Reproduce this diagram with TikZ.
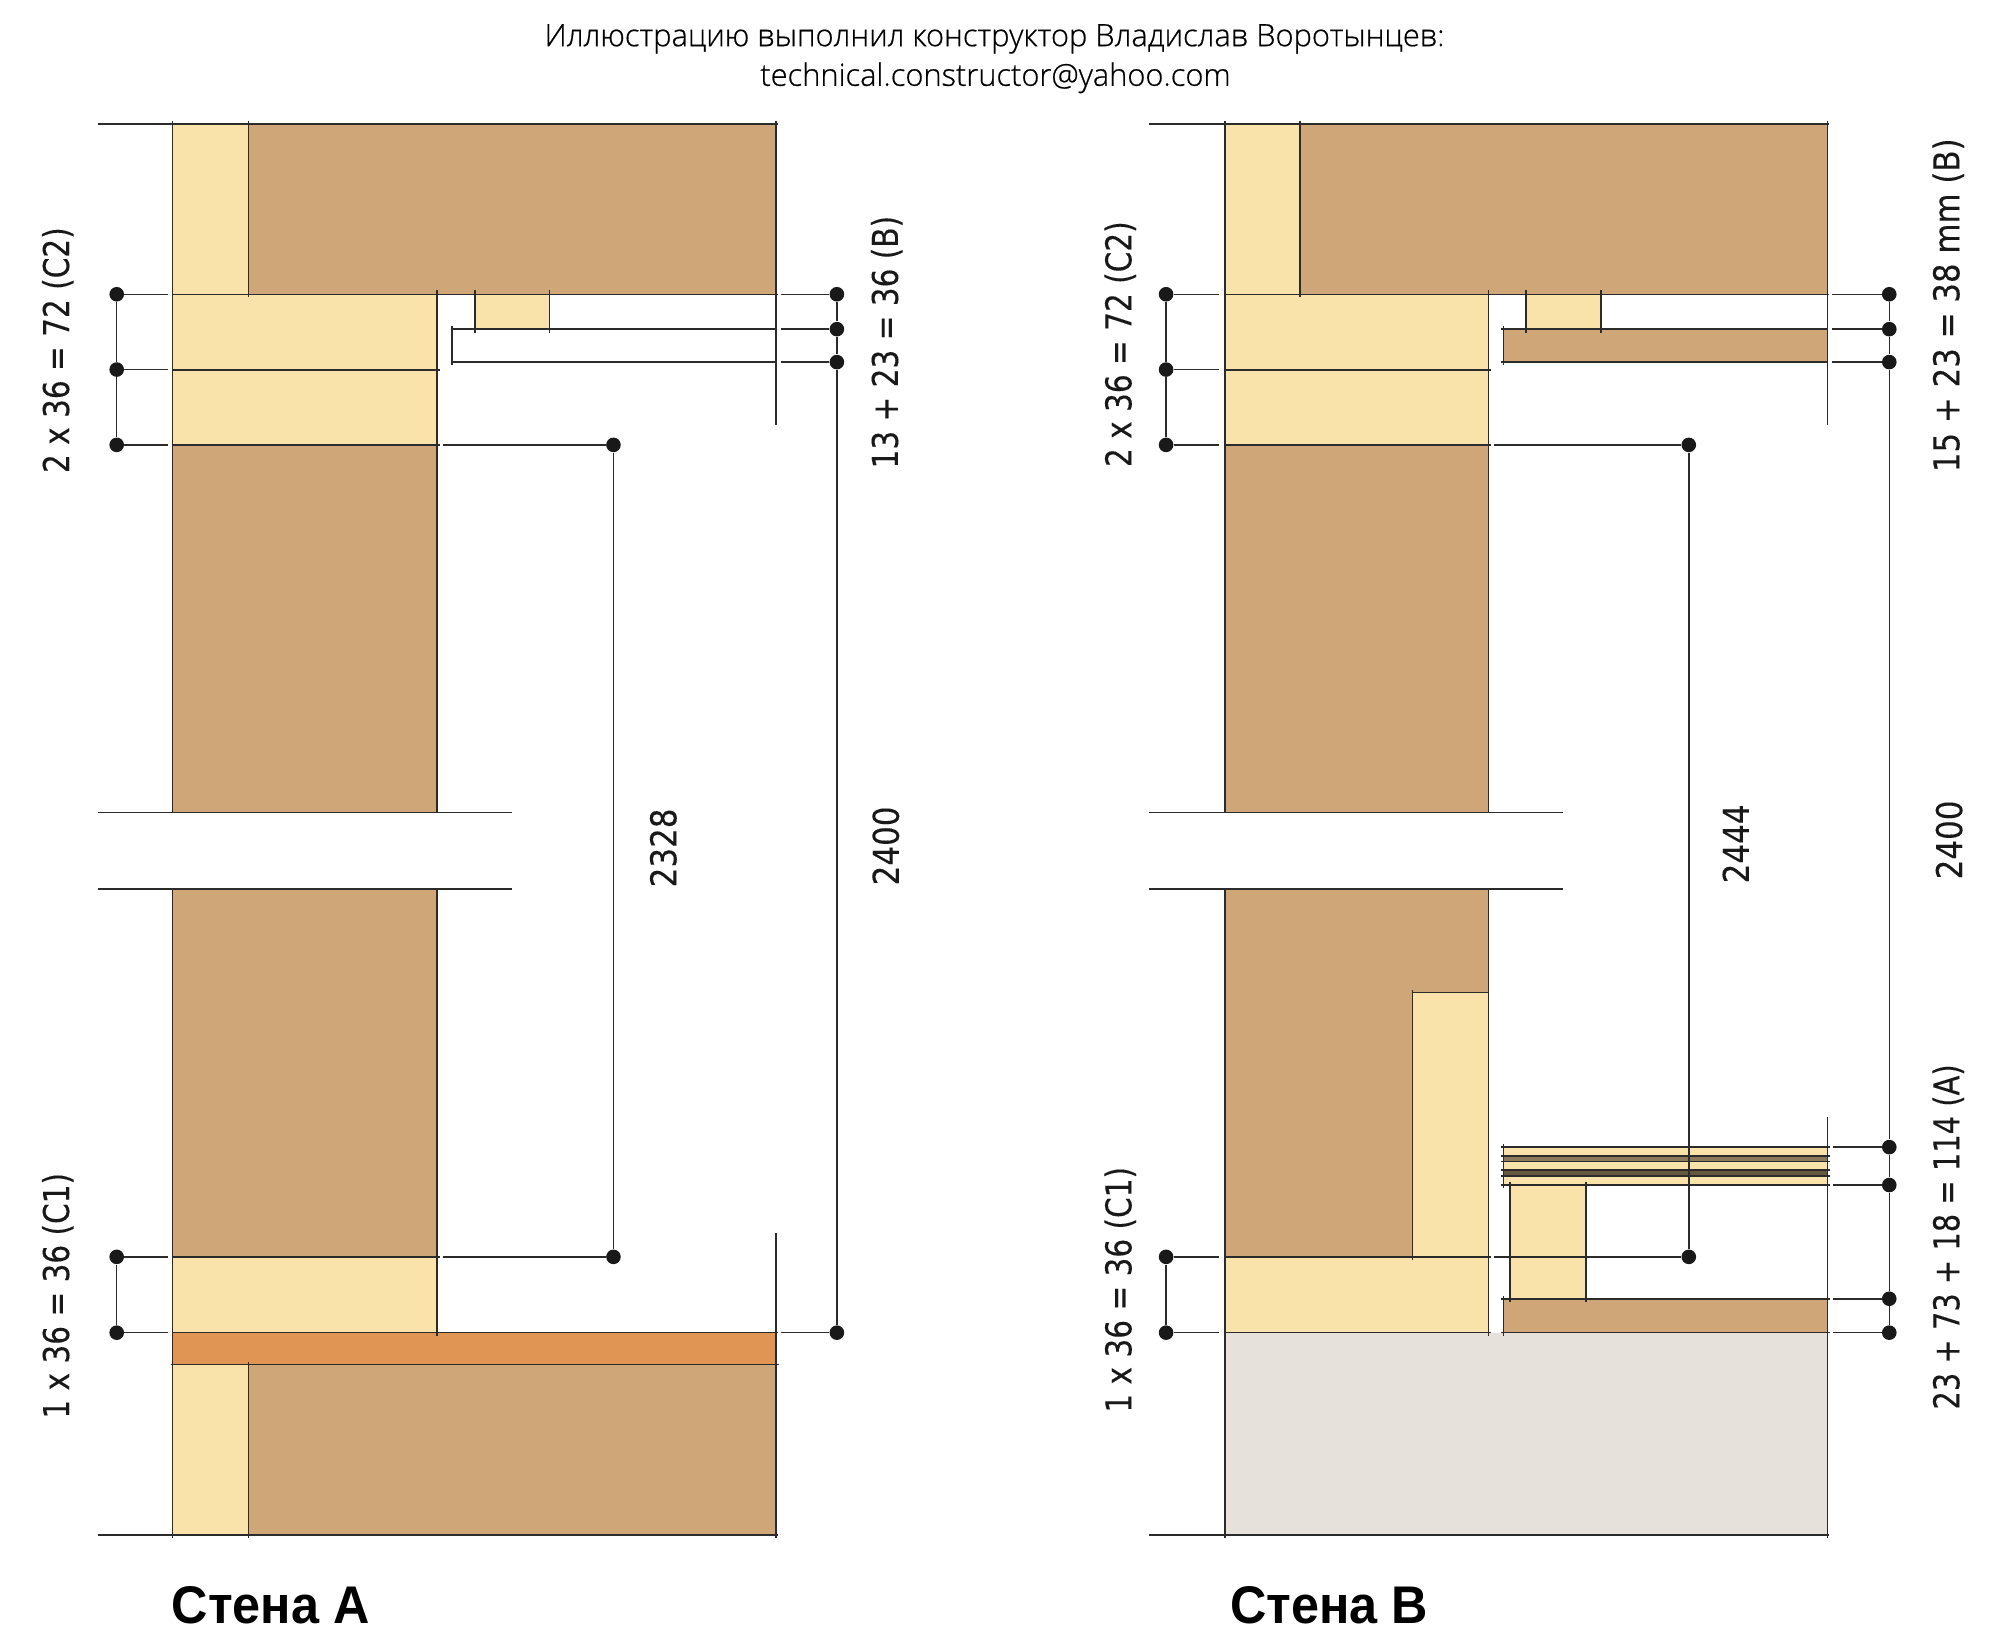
\documentclass[tikz,border=0pt]{standalone}
\usepackage{fontspec}
\setmainfont{DejaVu Sans}
\newfontfamily\dimfont[FakeBold=0.15]{DejaVu Sans}
\newfontfamily\titlefont[FakeBold=0.6]{Open Sans Light}
\newfontfamily\wallfont{Liberation Sans}
\definecolor{tan}{HTML}{CFA677}
\definecolor{cream}{HTML}{F9E3AB}
\definecolor{orng}{HTML}{E09555}
\definecolor{conc}{HTML}{E6E2DB}
\definecolor{ln}{HTML}{2B2B2B}
\definecolor{lay1}{HTML}{8B7A5C}
\definecolor{lay2}{HTML}{66583F}
\newcommand{\dimw}[2]{\scalebox{#1}[1]{#2}}
\tikzset{
  x=0.49875pt,y=-0.49875pt,
  edge/.style={draw=ln,line width=0.75pt},
  heavy/.style={draw=ln,line width=0.95pt},
  dimline/.style={draw=ln,line width=0.75pt},
  dot/.style={circle,fill=black!90,inner sep=0pt,minimum size=7.3pt},
  dimtext/.style={rotate=90,font=\dimfont\fontsize{17.8pt}{19pt}\selectfont,text=black!90,inner sep=0pt},
  walltext/.style={anchor=base west,font=\wallfont\bfseries\fontsize{26.5pt}{28pt}\selectfont,inner sep=0pt},
  titletext/.style={font=\titlefont\fontsize{15.4pt}{17pt}\selectfont,inner sep=0pt}
}
\begin{document}
\begin{tikzpicture}
\useasboundingbox (0,0) rectangle (2005.01,1639.1);
\fill[white] (0,0) rectangle (2005.01,1639.1);
% title
\node[titletext] (t1) at (997,39) {Иллюстрацию выполнил конструктор Владислав Воротынцев:};
\node[titletext] (t2) at (998,78) {technical.constructor@yahoo.com};
% ===== Wall A fills =====
\fill[cream] (173,124) rectangle (249,295);
\fill[tan] (249,124) rectangle (778,295);
\fill[cream] (173,295) rectangle (438,446);
\fill[tan] (173,446) rectangle (438,814.5);
\fill[cream] (476,295) rectangle (551,330);
\fill[tan] (173,891) rectangle (438,1260);
\fill[cream] (173,1260) rectangle (438,1336);
\fill[orng] (173,1336) rectangle (778,1368);
\fill[cream] (173,1368) rectangle (249,1539);
\fill[tan] (249,1368) rectangle (778,1539);
% Wall A lines
\draw[heavy] (98,124) -- (780,124);
\draw[edge] (173,121) -- (173,814.5) (249,121) -- (249,298) (438,291) -- (438,814.5);
\draw[edge] (778,121) -- (778,426);
\draw[edge] (476,291) -- (476,334) (551,291) -- (551,334);
\draw[heavy] (173,370.5) -- (441,370.5);
\draw[edge] (173,295) -- (780,295);
\draw[edge] (452,330) -- (778,330) (452,363) -- (778,363);
\draw[edge] (453,327) -- (453,366);
\draw[heavy] (98,814.5) -- (513,814.5) (98,891) -- (513,891);
\draw[edge] (173,891) -- (173,1542) (438,891) -- (438,1339) (249,1365) -- (249,1542);
\draw[edge] (778,1236) -- (778,1542);
\draw[heavy] (173,446) -- (441,446) (173,1260) -- (441,1260);
\draw[edge] (173,1336) -- (780,1336);
\draw[edge] (171,1368) -- (781,1368);
\draw[heavy] (98,1539) -- (780,1539);
% Wall A dimensions
\node[dot] (aL1) at (117,295) {};
\node[dot] (aL2) at (117,370.5) {};
\node[dot] (aL3) at (117,446) {};
\node[dot] (aL4) at (117,1260) {};
\node[dot] (aL5) at (117,1336) {};
\node[dot] (aM1) at (615,446) {};
\node[dot] (aM2) at (615,1260) {};
\node[dot] (aR1) at (839,295) {};
\node[dot] (aR2) at (839,330) {};
\node[dot] (aR3) at (839,363) {};
\node[dot] (aR4) at (839,1336) {};
\coordinate (aG1) at (168,295);
\coordinate (aG2) at (168,370.5);
\coordinate (aG3) at (168,446);
\coordinate (aG4) at (168,1260);
\coordinate (aG5) at (168,1336);
\coordinate (aH3) at (444,446);
\coordinate (aH4) at (444,1260);
\coordinate (aJ1) at (783,295);
\coordinate (aJ2) at (783,330);
\coordinate (aJ3) at (783,363);
\coordinate (aJ4) at (783,1336);
\draw[dimline] (aL1) -- (aL2) (aL2) -- (aL3) (aL4) -- (aL5) (aM1) -- (aM2) (aR1) -- (aR2) (aR2) -- (aR3) (aR3) -- (aR4);
\draw[dimline] (aL1) -- (aG1) (aL2) -- (aG2) (aL3) -- (aG3) (aL4) -- (aG4) (aL5) -- (aG5);
\draw[heavy] (aH3) -- (aM1) (aH4) -- (aM2);
\draw[dimline] (aJ1) -- (aR1) (aJ2) -- (aR2) (aJ3) -- (aR3) (aJ4) -- (aR4);
\node[dimtext] (a1) at (58,351) {\dimw{.83}{2 x 36 = 72 (C2)}};
\node[dimtext] (a2) at (58,1299) {\dimw{.83}{1 x 36 = 36 (C1)}};
\node[dimtext] (a3) at (665,850) {\dimw{.87}{2328}};
\node[dimtext] (a4) at (888,848) {\dimw{.87}{2400}};
\node[dimtext] (a5) at (889,343) {\dimw{.83}{13 + 23 = 36 (B)}};
\node[walltext] (a6) at (172,1628) {\scalebox{.95}[1]{Стена A}};
% ===== Wall B fills =====
\fill[cream] (1228,124) rectangle (1303,295);
\fill[tan] (1303,124) rectangle (1832,295);
\fill[cream] (1228,295) rectangle (1492,446);
\fill[tan] (1228,446) rectangle (1492,814.5);
\fill[cream] (1530,295) rectangle (1605,330);
\fill[tan] (1507,330) rectangle (1832,363);
\fill[tan] (1228,891) rectangle (1492,1260);
\fill[cream] (1416,995) rectangle (1492,1260);
\fill[cream] (1228,1260) rectangle (1492,1336);
\fill[conc] (1228,1336) rectangle (1832,1539);
\fill[tan] (1507,1302) rectangle (1832,1336);
\fill[cream] (1514,1188) rectangle (1590,1302);
\fill[cream] (1507,1150) rectangle (1832,1188);
\fill[lay1] (1507,1159) rectangle (1832,1164.5);
\fill[lay2] (1507,1173) rectangle (1832,1179);
% Wall B lines
\draw[heavy] (1152,124) -- (1834,124);
\draw[edge] (1228,121) -- (1228,814.5) (1303,121) -- (1303,298) (1492,291) -- (1492,814.5);
\draw[edge] (1832,121) -- (1832,426);
\draw[edge] (1530,291) -- (1530,334) (1605,291) -- (1605,334);
\draw[edge] (1507,327) -- (1507,366);
\draw[edge] (1228,295) -- (1834,295);
\draw[heavy] (1228,370.5) -- (1495,370.5);
\draw[heavy] (1505,330) -- (1832,330) (1505,363) -- (1832,363);
\draw[heavy] (1152,814.5) -- (1567,814.5) (1152,891) -- (1567,891);
\draw[edge] (1228,891) -- (1228,1542) (1492,891) -- (1492,1339);
\draw[edge] (1416,992) -- (1416,1263) (1416,995) -- (1492,995);
\draw[edge] (1832,1120) -- (1832,1542);
\draw[heavy] (1228,446) -- (1495,446) (1228,1260) -- (1495,1260);
\draw[edge] (1228,1336) -- (1495,1336);
\draw[edge] (1507,1147) -- (1507,1191) (1507,1299) -- (1507,1339);
\draw[edge] (1514,1185) -- (1514,1305) (1590,1185) -- (1590,1305);
\draw[edge] (1505,1150) -- (1835,1150) (1505,1159) -- (1835,1159) (1505,1164.5) -- (1835,1164.5) (1505,1173) -- (1835,1173) (1505,1179) -- (1835,1179) (1505,1188) -- (1835,1188);
\draw[edge] (1505,1302) -- (1835,1302) (1505,1336) -- (1835,1336);
\draw[heavy] (1152,1539) -- (1228,1539);
\draw[edge] (1228,1539) -- (1834,1539);
% Wall B dimensions
\node[dot] (bL1) at (1169,295) {};
\node[dot] (bL2) at (1169,370.5) {};
\node[dot] (bL3) at (1169,446) {};
\node[dot] (bL4) at (1169,1260) {};
\node[dot] (bL5) at (1169,1336) {};
\node[dot] (bM1) at (1693,446) {};
\node[dot] (bM2) at (1693,1260) {};
\node[dot] (bR1) at (1894,295) {};
\node[dot] (bR2) at (1894,330) {};
\node[dot] (bR3) at (1894,363) {};
\node[dot] (bR4) at (1894,1150) {};
\node[dot] (bR5) at (1894,1188) {};
\node[dot] (bR6) at (1894,1302) {};
\node[dot] (bR7) at (1894,1336) {};
\coordinate (bG1) at (1222,295);
\coordinate (bG2) at (1222,370.5);
\coordinate (bG3) at (1222,446);
\coordinate (bG4) at (1222,1260);
\coordinate (bG5) at (1222,1336);
\coordinate (bH3) at (1498,446);
\coordinate (bH4) at (1498,1260);
\coordinate (bJ1) at (1837,295);
\coordinate (bJ2) at (1837,330);
\coordinate (bJ3) at (1837,363);
\coordinate (bJ4) at (1838,1150);
\coordinate (bJ5) at (1838,1188);
\coordinate (bJ6) at (1838,1302);
\coordinate (bJ7) at (1838,1336);
\draw[dimline] (bL1) -- (bL2) (bL2) -- (bL3) (bL4) -- (bL5) (bM1) -- (bM2) (bR1) -- (bR2) (bR2) -- (bR3) (bR3) -- (bR4) (bR4) -- (bR5) (bR5) -- (bR6) (bR6) -- (bR7);
\draw[dimline] (bL1) -- (bG1) (bL2) -- (bG2) (bL3) -- (bG3) (bL4) -- (bG4) (bL5) -- (bG5);
\draw[heavy] (bH3) -- (bM1) (bH4) -- (bM2);
\draw[dimline] (bJ1) -- (bR1) (bJ2) -- (bR2) (bJ3) -- (bR3) (bJ4) -- (bR4) (bJ5) -- (bR5) (bJ6) -- (bR6) (bJ7) -- (bR7);
\node[dimtext] (b1) at (1123,345) {\dimw{.83}{2 x 36 = 72 (C2)}};
\node[dimtext] (b2) at (1123,1293) {\dimw{.83}{1 x 36 = 36 (C1)}};
\node[dimtext] (b3) at (1740,846) {\dimw{.87}{2444}};
\node[dimtext] (b4) at (1954,842) {\dimw{.87}{2400}};
\node[dimtext] (b5) at (1953,306) {\dimw{.867}{15 + 23 = 38 mm (B)}};
\node[dimtext] (b6) at (1953,1240) {\dimw{.813}{23 + 73 + 18 = 114 (A)}};
\node[walltext] (b7) at (1233,1628) {\scalebox{.95}[1]{Стена B}};
\end{tikzpicture}
\end{document}
